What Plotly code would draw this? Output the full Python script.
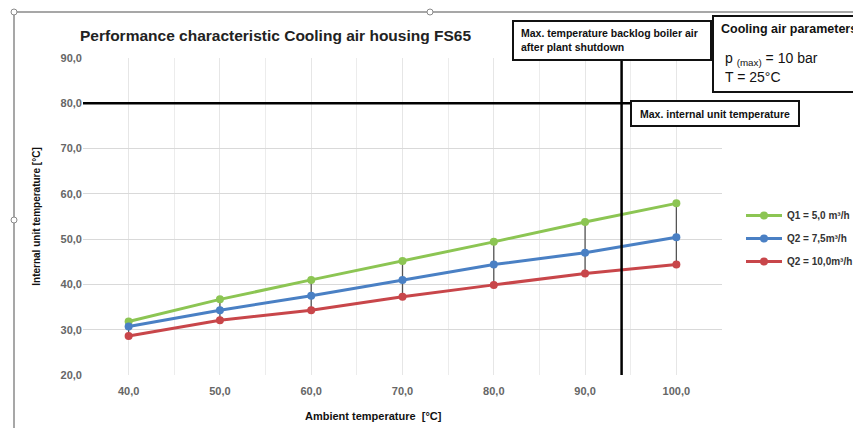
import plotly.graph_objects as go

ambient = [40, 50, 60, 70, 80, 90, 100]
q1_5 = [31.8, 36.7, 41.0, 45.2, 49.4, 53.8, 57.9]
q2_75 = [30.7, 34.3, 37.5, 41.0, 44.4, 47.0, 50.4]
q3_10 = [28.6, 32.1, 34.3, 37.3, 39.9, 42.4, 44.4]
names = ["Q1 = 5,0 m³/h", "Q2 = 7,5m³/h", "Q2 = 10,0m³/h"]
colors = ["#8cc553", "#4a80c4", "#c8464a"]
x_ticks = [40, 50, 60, 70, 80, 90, 100]
y_ticks = [20, 30, 40, 50, 60, 70, 80, 90]
MAX_INTERNAL = 80
SHUTDOWN_AMBIENT = 94

OFF = 8  # browser body margin
W, H = 861 - OFF, 428 - OFF
L, R, T, B = 83, 722, 58, 375  # plot area in page pixels


def px(x):
    return (x - L) / (R - L)


def py(y):
    return (B - y) / (B - T)


def fmt(v):
    return "<b>" + f"{v:.1f}".replace(".", ",") + "</b>"


FONT = "Arial, Liberation Sans, sans-serif"
fig = go.Figure()

# high-low lines
hx, hy = [], []
for xv, lo, hi in zip(ambient, q3_10, q1_5):
    hx += [xv, xv, None]
    hy += [lo, hi, None]
fig.add_trace(go.Scatter(x=hx, y=hy, mode="lines", line=dict(color="#555555", width=1.3),
                         showlegend=False, hoverinfo="skip"))

for i, (ys, nm, c) in enumerate(zip([q1_5, q2_75, q3_10], names, colors)):
    fig.add_trace(go.Scatter(x=ambient, y=ys, name="<b>" + nm + "</b>", mode="lines+markers",
                             legendgroup=f"g{i}",
                             line=dict(color=c, width=3),
                             marker=dict(color=c, size=8)))

shapes = []
# reference lines
shapes.append(dict(type="line", xref="paper", yref="y", x0=0, x1=px(631), y0=MAX_INTERNAL, y1=MAX_INTERNAL,
                   line=dict(color="black", width=2.5)))
shapes.append(dict(type="line", xref="x", yref="paper", x0=SHUTDOWN_AMBIENT, x1=SHUTDOWN_AMBIENT,
                   y0=0, y1=py(60), line=dict(color="black", width=2.5)))
# boxes
for (x0, y0, x1, y1) in [(513, 21, 711, 60), (713, 16, 870, 92), (631, 101, 799, 126)]:
    shapes.append(dict(type="rect", xref="paper", yref="paper", x0=px(x0), x1=px(x1), y0=py(y1), y1=py(y0),
                       line=dict(color="#111111", width=2), fillcolor="white", layer="above"))
# selection frame
shapes.append(dict(type="line", xref="paper", yref="paper", x0=px(14), x1=px(870), y0=py(12), y1=py(12),
                   line=dict(color="#8a8a8a", width=1.5)))
shapes.append(dict(type="line", xref="paper", yref="paper", x0=px(14), x1=px(14), y0=py(12), y1=py(440),
                   line=dict(color="#8a8a8a", width=1.5)))
for (cx, cy) in [(14, 12), (14, 220), (430, 12)]:
    shapes.append(dict(type="circle", xref="paper", yref="paper", x0=px(cx - 3), x1=px(cx + 3),
                       y0=py(cy + 3), y1=py(cy - 3), line=dict(color="#8a8a8a", width=1), fillcolor="white"))

annotations = [
    dict(text="<b>Max. temperature backlog boiler air<br>after plant shutdown</b>", x=px(519), y=py(40),
         xanchor="left", yanchor="middle", align="left", font=dict(size=10.5, color="#111")),
    dict(text="<b>Cooling air parameters</b>", x=px(719), y=py(29), xanchor="left", yanchor="middle",
         align="left", font=dict(size=12.5, color="#111")),
    dict(text="p <sub>(max)</sub> = 10 bar", x=px(723), y=py(59), xanchor="left", yanchor="middle",
         align="left", font=dict(size=14, color="#111")),
    dict(text="T = 25°C", x=px(723), y=py(77.5), xanchor="left", yanchor="middle",
         align="left", font=dict(size=14, color="#111")),
    dict(text="<b>Max. internal unit temperature</b>", x=px(638), y=py(113.5), xanchor="left", yanchor="middle",
         align="left", font=dict(size=10.5, color="#111")),
    dict(text="<b>Performance characteristic Cooling air housing FS65</b>", x=px(78), y=py(36),
         xanchor="left", yanchor="middle", font=dict(size=15.5, color="#222")),
    dict(text="<b>Ambient temperature  [°C]</b>", x=px(373), y=py(416), xanchor="center", yanchor="middle",
         font=dict(size=11, color="#111")),
]
for a in annotations:
    a.update(xref="paper", yref="paper", showarrow=False)

fig.update_layout(
    width=W, height=H,
    margin=dict(l=L - OFF, r=W - (R - OFF), t=T - OFF, b=H - (B - OFF), autoexpand=False),
    paper_bgcolor="white", plot_bgcolor="white",
    font=dict(family=FONT),
    shapes=shapes, annotations=annotations,
    showlegend=True,
    legend=dict(x=px(741), y=py(201), xanchor="left", yanchor="top", bgcolor="rgba(0,0,0,0)",
                font=dict(size=10, color="#333", family=FONT), itemwidth=36, tracegroupgap=4),
    xaxis=dict(range=[35, 105], tickvals=x_ticks, ticktext=[fmt(v) for v in x_ticks],
               showgrid=True, gridcolor="#e6e6e6", automargin=False,
               minor=dict(dtick=5, showgrid=True, gridcolor="#ececec"), zeroline=False,
               showline=False, ticks="", ticklabelstandoff=8,
               tickfont=dict(size=11, color="#666666")),
    yaxis=dict(range=[20, 90], tickvals=y_ticks, ticktext=[fmt(v) for v in y_ticks],
               showgrid=True, gridcolor="#d9d9d9", automargin=False,
               zeroline=False, showline=False, ticks="",
               tickfont=dict(size=11, color="#666666"),
               title=dict(text="<b>Internal unit temperature [°C]</b>", font=dict(size=10, color="#111"), standoff=18)),
)
fig.write_html("out.html")
